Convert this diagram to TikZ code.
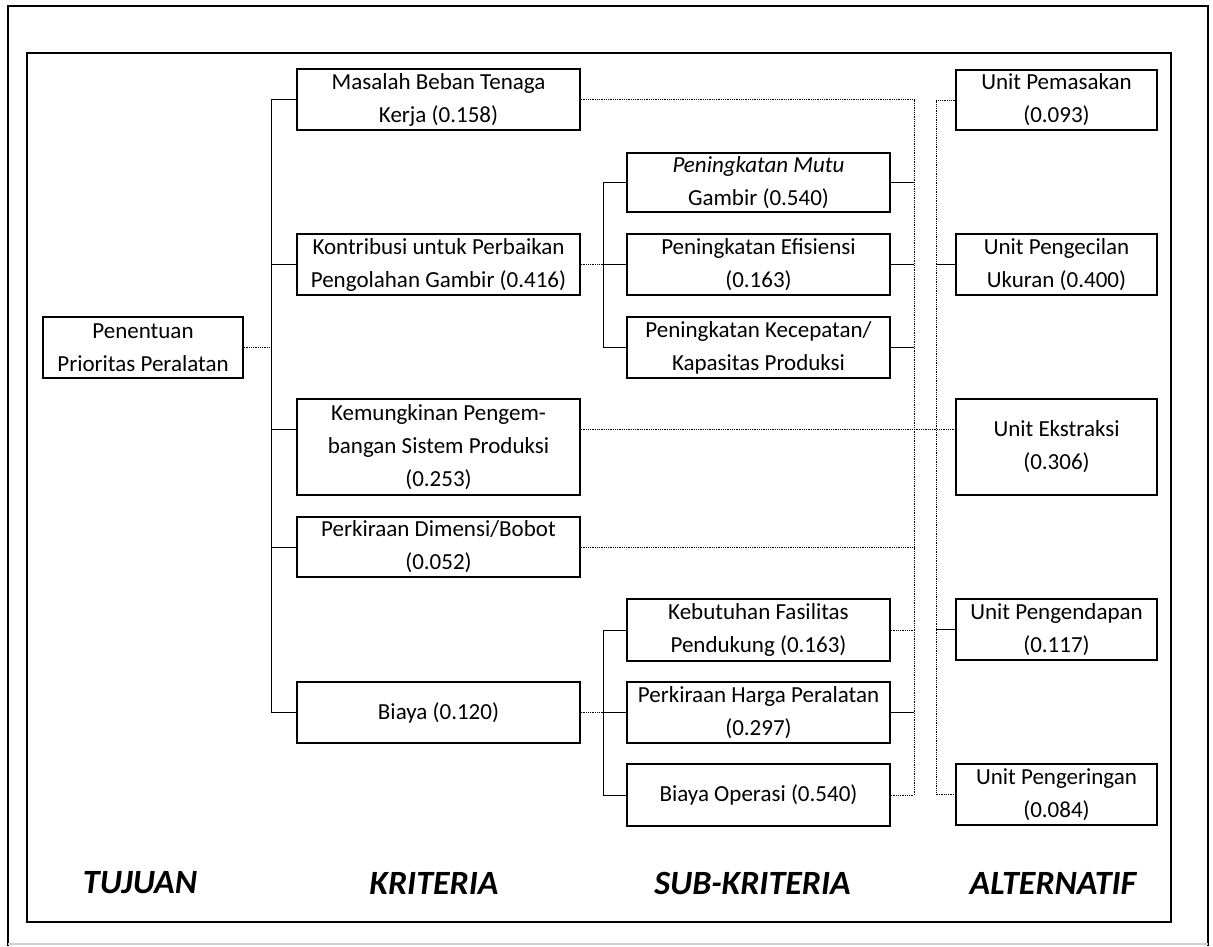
\documentclass[tikz,border=0pt]{standalone}
\usepackage{fontspec}
\setmainfont{Carlito}
\begin{document}
\begin{tikzpicture}[x=1pt,y=-1pt,
  box/.style={draw, line width=1.6pt, inner sep=0pt, align=center,
              font=\fontsize{23}{33}\selectfont, minimum height=61pt},
  crit/.style={box, minimum width=283pt},
  subk/.style={box, minimum width=263pt},
  alt/.style={box, minimum width=201pt},
  conn/.style={line width=0.8pt},
  dconn/.style={line width=0.8pt, densely dotted},
  lbl/.style={font=\fontsize{34}{40}\selectfont\bfseries\itshape},
  frame/.style={line width=2.2pt}]
\useasboundingbox (0,0) rectangle (1213,946);
% frames
\draw[frame] (8,946) -- (8,6) -- (1208,6) -- (1208,946);
\draw[gray!35, line width=1.5pt] (8,944) -- (1208,944);
\draw[frame] (27,53) rectangle (1171,922);

% goal
\node[box, minimum width=200pt] (goal) at (143,347.5) {Penentuan\\Prioritas Peralatan};
% criteria
\node[crit] (c1) at (438.5,99.5) {Masalah Beban Tenaga\\Kerja (0.158)};
\node[crit] (c2) at (438.5,264.5) {Kontribusi untuk Perbaikan\\Pengolahan Gambir (0.416)};
\node[crit, minimum height=96pt] (c3) at (438.5,447) {Kemungkinan Pengem-\\bangan Sistem Produksi\\(0.253)};
\node[crit, minimum height=60pt] (c4) at (438.5,547) {Perkiraan Dimensi/Bobot\\(0.052)};
\node[crit] (c5) at (438.5,712.5) {Biaya (0.120)};
% sub-criteria
\node[subk, minimum height=59pt] (s1) at (758.5,182.5) {\textit{Peningkatan Mutu}\\Gambir (0.540)};
\node[subk] (s2) at (758.5,264.5) {Peningkatan Efisiensi\\(0.163)};
\node[subk] (s3) at (758.5,347.5) {Peningkatan Kecepatan/\\Kapasitas Produksi};
\node[subk, minimum height=62pt] (s4) at (758.5,630) {Kebutuhan Fasilitas\\Pendukung (0.163)};
\node[subk] (s5) at (758.5,712.5) {Perkiraan Harga Peralatan\\(0.297)};
\node[subk, minimum height=62pt] (s6) at (758.5,795) {Biaya Operasi (0.540)};
% alternatives
\node[alt, minimum height=60pt] (a1) at (1056.5,100) {Unit Pemasakan\\(0.093)};
\node[alt] (a2) at (1056.5,264.5) {Unit Pengecilan\\Ukuran (0.400)};
\node[alt, minimum height=96pt] (a3) at (1056.5,447) {Unit Ekstraksi\\(0.306)};
\node[alt] (a4) at (1056.5,629.5) {Unit Pengendapan\\(0.117)};
\node[alt] (a5) at (1056.5,794.5) {Unit Pengeringan\\(0.084)};

% bus positions
\coordinate (lb) at (271,0);
\coordinate (sb) at (603,0);
\coordinate (rb1) at (914,0);
\coordinate (rb2) at (936,0);
\coordinate (k) at (0,429);

% goal -> criteria
\draw[conn] (c1.west) -- (c1.west -| lb) -- (c5.west -| lb) -- (c5.west);
\draw[dconn] (goal.east) -- (goal.east -| lb);
\draw[conn] (c2.west) -- (c2.west -| lb);
\draw[conn] (c3.west |- k) -- (lb |- k);
\draw[conn] (c4.west) -- (c4.west -| lb);

% criteria -> sub-criteria
\draw[dconn] (c2.east) -- (c2.east -| sb);
\draw[conn] (s1.west) -- (s1.west -| sb) -- (s3.west -| sb) -- (s3.west);
\draw[conn] (s2.west) -- (s2.west -| sb);
\draw[dconn] (c5.east) -- (c5.east -| sb);
\draw[conn] (s4.west) -- (s4.west -| sb) -- (s6.west -| sb) -- (s6.west);
\draw[conn] (s5.west) -- (s5.west -| sb);

% right bus 1
\draw[dconn] (c1.east) -- (c1.east -| rb1) -- (s6.east -| rb1) -- (s6.east);
\draw[conn] (s1.east) -- (s1.east -| rb1);
\draw[conn] (s2.east) -- (s2.east -| rb1);
\draw[conn] (s3.east) -- (s3.east -| rb1);
\draw[dconn] (c4.east) -- (c4.east -| rb1);
\draw[dconn] (s4.east) -- (s4.east -| rb1);
\draw[conn] (s5.east) -- (s5.east -| rb1);

% right bus 2
\draw[dconn] (a1.west) -- (a1.west -| rb2) -- (a5.west -| rb2) -- (a5.west);
\draw[conn] (a2.west) -- (a2.west -| rb2);
\draw[conn] (a4.west) -- (a4.west -| rb2);

% long link
\draw[dconn] (c3.east |- k) -- (a3.west |- k);

% level labels
\node[lbl] (t1) at (140,883) {TUJUAN};
\node[lbl] (t2) at (434,883) {KRITERIA};
\node[lbl] (t3) at (752.5,883) {SUB-KRITERIA};
\node[lbl] (t4) at (1053,883) {ALTERNATIF};
\end{tikzpicture}
\end{document}
